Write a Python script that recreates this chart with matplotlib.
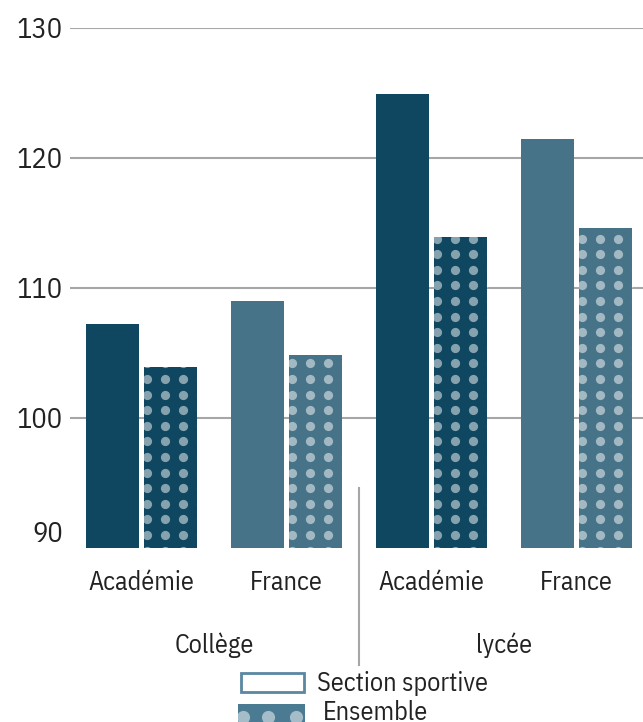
import matplotlib
matplotlib.use("Agg")
import matplotlib.pyplot as plt
import matplotlib.transforms as mtransforms
from matplotlib.patches import Rectangle
import numpy as np

categories = ["Académie", "France", "Académie", "France"]
groups = ["Collège", "lycée"]
section_sportive = [107.2, 109.0, 124.9, 121.5]
ensemble = [103.9, 104.85, 113.9, 114.6]
yticks = [90, 100, 110, 120, 130]
legend_labels = ["Section sportive", "Ensemble"]

FONT = ["IBM Plex Sans Condensed", "DejaVu Sans"]
plt.rcParams["font.family"] = FONT
FS = 18.8
FS_TICK = 20.5
TXT = "#222222"

dark = "#0f4660"
mid = "#467387"
grid_c = "#a6a6a6"

fig = plt.figure(figsize=(6.43, 7.22), dpi=100)
ax = fig.add_axes([70/643, 1-548/722, 1-70/643, (548-28)/722])
ax.set_xlim(-0.493, 3.459)
ax.set_ylim(90, 130)

x = np.arange(len(categories))
w = 53/145
off = 29/145
colors = [dark, mid, dark, mid]
bars_s = ax.bar(x - off, np.array(section_sportive) - 90, bottom=90, width=w, color=colors, zorder=2)
bars_e = ax.bar(x + off, np.array(ensemble) - 90, bottom=90, width=w, color=colors, zorder=2)

# dot pattern inside the "Ensemble" bars
px_x = 145.0  # pixels per x unit
for b in bars_e:
    x0 = b.get_x()
    xs = x0 + (np.arange(-1, 5) * 18 + 3) / px_x
    ys = 103 + np.arange(-12, 20) * 1.2
    X, Y = np.meshgrid(xs, ys)
    sc = ax.scatter(X.ravel(), Y.ravel(), s=44, color="white", alpha=0.5,
                    linewidths=0, zorder=3)
    sc.set_clip_path(b)

for yv in yticks[1:]:
    ax.axhline(yv, color=grid_c, lw=1.5, zorder=1)

for s in ax.spines.values():
    s.set_visible(False)
ax.set_yticks(yticks)
ax.set_yticklabels([str(v) for v in yticks], fontsize=FS_TICK, color=TXT)
ax.tick_params(axis="y", length=0, pad=5)
ax.set_xticks(x)
ax.set_xticklabels(categories, fontsize=FS, color=TXT)
ax.tick_params(axis="x", length=0, pad=16)
lab90 = ax.get_yticklabels()[0]
lab90.set_va("bottom")

tr = mtransforms.blended_transform_factory(ax.transData, fig.transFigure)
for i, g in enumerate(groups):
    ax.text(2 * i + 0.5, 1 - 645/722, g, transform=tr,
            ha="center", va="center", fontsize=FS, color=TXT)

ax.plot([1.5, 1.5], [1 - 488/722, 1 - 665/722], transform=tr, color=grid_c, lw=1.5, clip_on=False)

# legend
lax = fig.add_axes([0, 0, 1, 1], zorder=5)
lax.set_xlim(0, 643)
lax.set_ylim(722, 0)
lax.axis("off")
lax.add_patch(Rectangle((241, 673), 63, 19, facecolor="white", edgecolor="#5a88a2", lw=2))
r2 = Rectangle((238, 704), 67, 30, facecolor="#4a7b93", edgecolor="none")
lax.add_patch(r2)
for cx in [243, 268, 296]:
    c = lax.scatter([cx], [717], s=90, color="white", alpha=0.5, linewidths=0, zorder=6)
    c.set_clip_path(r2)
lax.text(317, 684, legend_labels[0], fontsize=FS, va="center", ha="left", color=TXT)
lax.text(323, 713, legend_labels[1], fontsize=FS, va="center", ha="left", color=TXT)

fig.savefig("out.png", dpi=100)
